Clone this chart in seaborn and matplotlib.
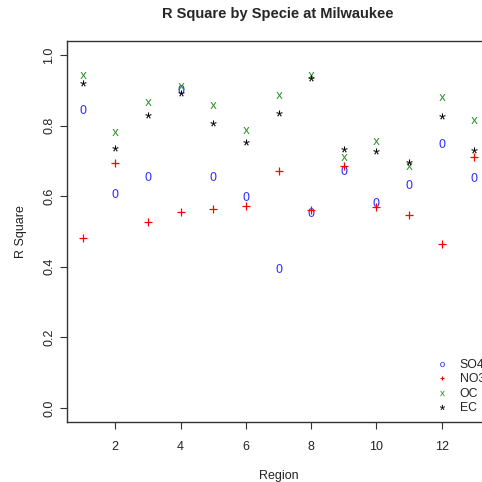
import matplotlib
matplotlib.use("Agg")
import matplotlib.pyplot as plt
import seaborn as sns
import numpy as np
import pandas as pd

regions = list(range(1, 14))
so4 = [0.847, 0.608, 0.657, 0.903, 0.657, 0.601, 0.396, 0.554, 0.675, 0.584, 0.635, 0.751, 0.654]
no3 = [0.481, 0.694, 0.526, 0.554, 0.563, 0.572, 0.672, 0.561, 0.686, 0.570, 0.547, 0.465, 0.710]
oc = [0.945, 0.782, 0.868, 0.913, 0.859, 0.788, 0.888, 0.944, 0.711, 0.757, 0.686, 0.882, 0.817]
ec = [0.922, 0.736, 0.829, 0.893, 0.807, 0.753, 0.836, 0.934, 0.733, 0.727, 0.698, 0.826, 0.730]

species = ["SO4", "NO3", "OC", "EC"]
values = {"SO4": so4, "NO3": no3, "OC": oc, "EC": ec}
colors = {"SO4": "#2222FF", "NO3": "#FF0000", "OC": "#228B22", "EC": "#000000"}
markers = {"SO4": r"$0$", "NO3": "+", "OC": r"$x$", "EC": r"$*$"}
sizes = {"SO4": 40, "NO3": 26, "OC": 24, "EC": 20}
lws = {"SO4": 0, "NO3": 0.9, "OC": 0, "EC": 0}
legend_markers = {"SO4": r"$o$", "NO3": "+", "OC": r"$x$", "EC": r"$*$"}

df = pd.DataFrame({
    "Region": regions * len(species),
    "RSquare": sum((values[s] for s in species), []),
    "Specie": sum(([s] * len(regions) for s in species), []),
})

sns.set_style("white")
plt.rcParams["font.family"] = ["Liberation Sans", "DejaVu Sans"]
plt.rcParams["mathtext.fontset"] = "custom"
plt.rcParams["mathtext.rm"] = "Liberation Sans"
plt.rcParams["mathtext.it"] = "Liberation Sans"
plt.rcParams["mathtext.default"] = "regular"

fig = plt.figure(figsize=(4.82, 4.82), dpi=100)
W, H = 482, 482
left, right, top, bottom = 67, 490, 41, 422
ax = fig.add_axes([left / W, 1 - bottom / H, (right - left) / W, (bottom - top) / H])

for s in species:
    sub = df[df["Specie"] == s]
    kw = dict(linewidth=lws[s])
    if s == "NO3":
        kw["edgecolor"] = colors[s]
    sns.scatterplot(data=sub, x="Region", y="RSquare", ax=ax, color=colors[s],
                    marker=markers[s], s=sizes[s], label=s, legend=False, **kw)

ax.set_xlim(0.52, 13.48)
ax.set_ylim(-0.04, 1.04)
ax.set_xticks([2, 4, 6, 8, 10, 12])
ax.set_yticks([0.0, 0.2, 0.4, 0.6, 0.8, 1.0])
ax.set_yticklabels(["0.0", "0.2", "0.4", "0.6", "0.8", "1.0"], rotation=90, va="center")
ax.tick_params(axis="both", direction="out", length=5, width=0.8, color="#333333",
               labelsize=9, labelcolor="#222222", left=True, bottom=True)
ax.tick_params(axis="x", pad=9)
ax.tick_params(axis="y", pad=3.5)
for sp in ax.spines.values():
    sp.set_color("#333333")
    sp.set_linewidth(1.0)
ax.set_xlabel("Region", fontsize=9, labelpad=12, color="#222222")
ax.set_ylabel("R Square", fontsize=9, labelpad=12, color="#222222")
fig.text(278 / W, 1 - 14 / H, "R Square by Specie at Milwaukee",
         ha="center", va="center", fontsize=10.5, fontweight="bold")

from matplotlib.lines import Line2D
handles = []
for s in species:
    if s == "NO3":
        handles.append(Line2D([], [], linestyle="none", marker="+", color=colors[s],
                              markersize=3.5, markeredgewidth=0.8))
    else:
        handles.append(Line2D([], [], linestyle="none", marker=legend_markers[s],
                              color=colors[s], markersize=3.8, markeredgewidth=0))
leg = ax.legend(handles, species, loc="upper left",
                bbox_to_anchor=((436 - left) / (right - left), (bottom - 359) / (bottom - top)),
                frameon=False, fontsize=8.8, borderpad=0, borderaxespad=0,
                handlelength=1.0, handletextpad=0.95, labelspacing=0.2)
for t in leg.get_texts():
    t.set_color("#222222")

fig.savefig("out.png", dpi=100)
